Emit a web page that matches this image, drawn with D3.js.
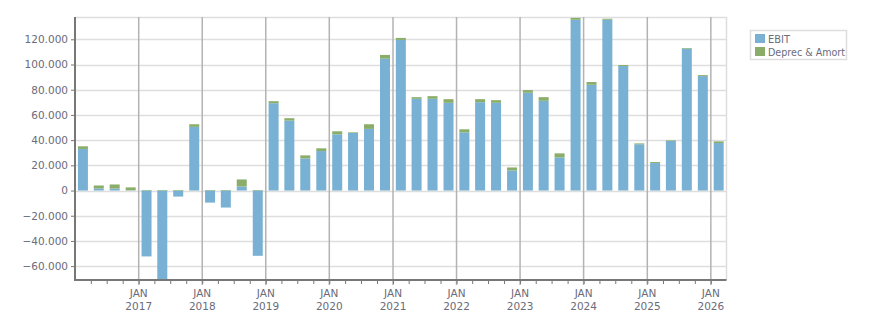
<!DOCTYPE html>
<html>
<head>
<meta charset="utf-8">
<script src="https://cdn.jsdelivr.net/npm/d3@7"></script>
<style>
  body { margin: 0; background: #fff; }
  svg text { font-family: "DejaVu Sans", Verdana, sans-serif; }
</style>
</head>
<body>
<div id="chart"></div>
<script>
// quarters, Q1 2016 .. Q1 2026
const quarters = [
  "2016-01","2016-04","2016-07","2016-10",
  "2017-01","2017-04","2017-07","2017-10",
  "2018-01","2018-04","2018-07","2018-10",
  "2019-01","2019-04","2019-07","2019-10",
  "2020-01","2020-04","2020-07","2020-10",
  "2021-01","2021-04","2021-07","2021-10",
  "2022-01","2022-04","2022-07","2022-10",
  "2023-01","2023-04","2023-07","2023-10",
  "2024-01","2024-04","2024-07","2024-10",
  "2025-01","2025-04","2025-07","2025-10",
  "2026-01"
];
const ebit = [33000, 1600, 1600, 200, -52300, -70900, -4800, 50500, -9600, -13500,
  3200, -51800, 69300, 55500, 25500, 31300, 44600, 45700, 48900, 104600,
  119500, 72800, 72800, 69600, 46200, 70100, 69600, 15900, 77600, 71200,
  26300, 135500, 83900, 135500, 98800, 36700, 21800, 39300, 112600, 90800, 37700];
const deprec = [2100, 2400, 3200, 2300, 400, 400, 400, 2100, 400, 400,
  5600, 400, 1600, 1900, 2400, 2200, 2400, 500, 3700, 3000,
  1600, 1300, 2100, 2900, 2400, 2400, 2100, 2400, 2100, 2900,
  3200, 1500, 2200, 800, 800, 700, 800, 500, 500, 800, 1300];
const seriesNames = ["EBIT", "Deprec & Amort"];
const yTicks = [-60000, -40000, -20000, 0, 20000, 40000, 60000, 80000, 100000, 120000];

const colors = {"EBIT": "#78b1d3", "Deprec & Amort": "#8aae69"};
const width = 876, height = 313;
const m = {left: 75, right: 726.5, top: 17, bottom: 280};

const parse = d3.timeParse("%Y-%m");
const rows = quarters.map((q, i) => ({
  date: parse(q), "EBIT": ebit[i], "Deprec & Amort": deprec[i]
}));

const svg = d3.select("#chart").append("svg")
  .attr("width", width).attr("height", height);

const x = d3.scaleTime()
  .domain([new Date(2016, 0, 1), new Date(2026, 3, 1)])
  .range([m.left, m.right]);
const y = d3.scaleLinear()
  .domain([-71000, 137700])
  .range([m.bottom, m.top]);

const fmt = v => d3.format(",")(v).replace(/,/g, ".");

// horizontal grid
svg.append("g")
  .selectAll("line")
  .data(yTicks)
  .enter().append("line")
  .attr("x1", m.left).attr("x2", m.right)
  .attr("y1", d => Math.round(y(d)) + 0.5).attr("y2", d => Math.round(y(d)) + 0.5)
  .attr("stroke", "#dedede").attr("stroke-width", 1.5);

// plot border top / right
svg.append("line").attr("x1", m.left).attr("x2", m.right).attr("y1", m.top + 0.5).attr("y2", m.top + 0.5)
  .attr("stroke", "#dedede").attr("stroke-width", 1.5);
svg.append("line").attr("x1", m.right).attr("x2", m.right).attr("y1", m.top).attr("y2", m.bottom)
  .attr("stroke", "#dedede").attr("stroke-width", 1.5);

// year grid
const years = d3.timeYear.range(new Date(2017, 0, 1), new Date(2026, 3, 1));
svg.append("g")
  .selectAll("line")
  .data(years)
  .enter().append("line")
  .attr("x1", d => x(d)).attr("x2", d => x(d))
  .attr("y1", m.top).attr("y2", m.bottom + 5)
  .attr("stroke", "#b3b3b3").attr("stroke-width", 1.5);

// bars
const stack = d3.stack().keys(seriesNames).offset(d3.stackOffsetDiverging)(rows);
svg.append("clipPath").attr("id", "clip")
  .append("rect").attr("x", m.left).attr("y", m.top).attr("width", m.right - m.left).attr("height", m.bottom - m.top);

const barW = 10;
svg.append("g").attr("clip-path", "url(#clip)")
  .selectAll("g")
  .data(stack)
  .enter().append("g")
  .attr("fill", d => colors[d.key])
  .selectAll("rect")
  .data(d => d)
  .enter().append("rect")
  .attr("x", d => {
    const mid = x(d.data.date) + (x(d3.timeMonth.offset(d.data.date, 3)) - x(d.data.date)) / 2;
    return mid - barW / 2;
  })
  .attr("width", barW)
  .attr("y", d => y(Math.max(d[0], d[1])))
  .attr("height", d => Math.abs(y(d[0]) - y(d[1])));

// y axis
const yAxis = svg.append("g")
  .attr("transform", "translate(" + m.left + ",0)")
  .call(d3.axisLeft(y).tickValues(yTicks).tickFormat(fmt).tickSize(4).tickPadding(3));
yAxis.select(".domain").remove();
yAxis.selectAll(".tick line").attr("stroke", "#777");
yAxis.selectAll("text").attr("fill", "#6b6b7a").style("font-size", "10.5px");
svg.append("line").attr("x1", m.left).attr("x2", m.left).attr("y1", m.top).attr("y2", m.bottom + 1)
  .attr("stroke", "#777").attr("stroke-width", 2);

// x axis
const quarterTicks = d3.timeMonth.every(3).range(new Date(2016, 3, 1), new Date(2026, 3, 1));
const xAxis = svg.append("g")
  .attr("transform", "translate(0," + m.bottom + ")")
  .call(d3.axisBottom(x).tickValues(quarterTicks).tickFormat("").tickSize(4));
xAxis.select(".domain").remove();
xAxis.selectAll(".tick line").attr("stroke", "#777");
svg.append("line").attr("x1", m.left - 1).attr("x2", m.right).attr("y1", m.bottom).attr("y2", m.bottom)
  .attr("stroke", "#777").attr("stroke-width", 2);

const yl = svg.append("g").selectAll("g")
  .data(years)
  .enter().append("g")
  .attr("transform", d => "translate(" + x(d) + ",0)");
yl.append("text").attr("y", 297).attr("text-anchor", "middle")
  .attr("fill", "#6b6b7a").style("font-size", "10.5px").text("JAN");
yl.append("text").attr("y", 310).attr("text-anchor", "middle")
  .attr("fill", "#6b6b7a").style("font-size", "10.5px").text(d => d3.timeFormat("%Y")(d));

// legend
const legend = svg.append("g").attr("transform", "translate(750,30)");
legend.append("rect").attr("x", 0.5).attr("y", 0.5).attr("width", 96).attr("height", 29)
  .attr("fill", "#fff").attr("stroke", "#dedede").attr("stroke-width", 1.5);
const li = legend.selectAll(".item")
  .data(seriesNames)
  .enter().append("g")
  .attr("transform", (d, i) => "translate(5," + (4 + i * 13) + ")");
li.append("rect").attr("width", 10).attr("height", 9).attr("fill", d => colors[d]);
li.append("text").attr("x", 13).attr("y", 9).attr("fill", "#6b6b7a")
  .style("font-size", "10px").attr("textLength", d => d === "EBIT" ? 22 : 77)
  .attr("lengthAdjust", "spacingAndGlyphs").text(d => d);
</script>
</body>
</html>
